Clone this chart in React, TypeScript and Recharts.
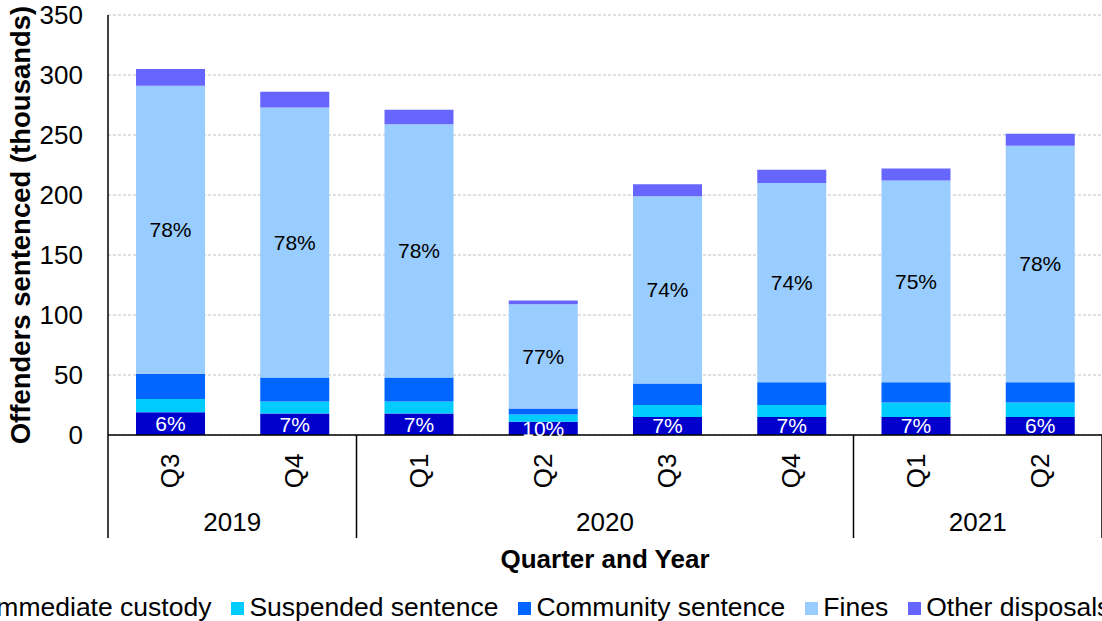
import React from "react";
import {
  BarChart,
  Bar,
  XAxis,
  YAxis,
  CartesianGrid,
  Legend,
  LabelList,
  Label,
} from "recharts";

document.body.style.margin = "0";

const quarters = ["Q3", "Q4", "Q1", "Q2", "Q3", "Q4", "Q1", "Q2"];
const years = ["2019", "2019", "2020", "2020", "2020", "2020", "2021", "2021"];

const custody = [19, 18, 18, 11, 15, 15, 15, 15];
const suspended = [11, 10, 10, 6, 10, 10, 12, 12];
const community = [21, 20, 20, 5, 18, 19, 17, 17];
const fines = [240, 225, 211, 87, 156, 166, 168, 197];
const other = [14, 13, 12, 3, 10, 11, 10, 10];

const custodyPct = ["6%", "7%", "7%", "10%", "7%", "7%", "7%", "6%"];
const finesPct = ["78%", "78%", "78%", "77%", "74%", "74%", "75%", "78%"];

const yTicks = [0, 50, 100, 150, 200, 250, 300, 350];

const series = [
  { key: "custody", name: "Immediate custody", color: "#0000CC" },
  { key: "suspended", name: "Suspended sentence", color: "#00CCFF" },
  { key: "community", name: "Community sentence", color: "#0066FF" },
  { key: "fines", name: "Fines", color: "#99CCFF" },
  { key: "other", name: "Other disposals", color: "#6666FF" },
];

const data = quarters.map((q, i) => ({
  quarter: q,
  year: years[i],
  custody: custody[i],
  suspended: suspended[i],
  community: community[i],
  fines: fines[i],
  other: other[i],
  custodyPct: custodyPct[i],
  finesPct: finesPct[i],
}));

const FONT = "'Liberation Sans', Arial, sans-serif";
const W = 1102;
const H = 621;
const PLOT_LEFT = 108;

// quarter labels rotated, with year groups and separators underneath
function QuarterTick(props: any) {
  const { x, y, payload, index } = props;
  const half = payload && payload.offset ? payload.offset : (W - PLOT_LEFT) / quarters.length / 2;
  const i = typeof index === "number" ? index : payload.index;
  const isStart = i === 0 || years[i] !== years[i - 1];
  const isLast = i === quarters.length - 1;
  let count = 0;
  if (isStart) {
    let j = i;
    while (j < years.length && years[j] === years[i]) {
      count++;
      j++;
    }
  }
  const groupCenter = x - half + count * half;
  return (
    <g>
      <text
        x={x}
        y={y + 36}
        transform={`rotate(-90, ${x}, ${y + 36})`}
        textAnchor="middle"
        dominantBaseline="central"
        fontSize={26}
        fontFamily={FONT}
        fill="#000"
      >
        {payload.value}
      </text>
      {isStart && (
        <>
          <line x1={x - half} x2={x - half} y1={y} y2={y + 103} stroke="#000" strokeWidth={1.5} />
          <text
            x={groupCenter}
            y={y + 87}
            textAnchor="middle"
            dominantBaseline="central"
            fontSize={26}
            fontFamily={FONT}
            fill="#000"
          >
            {years[i]}
          </text>
        </>
      )}
      {isLast && (
        <line x1={x + half} x2={x + half} y1={y} y2={y + 103} stroke="#000" strokeWidth={1.5} />
      )}
    </g>
  );
}

function YTitle(props: any) {
  const vb = props.viewBox || { x: 0, y: 15, width: 108, height: 420 };
  const cx = 20;
  const cy = vb.y + vb.height / 2;
  return (
    <text
      x={cx}
      y={cy}
      transform={`rotate(-90, ${cx}, ${cy})`}
      textAnchor="middle"
      dominantBaseline="central"
      fontSize={27.5}
      fontWeight="bold"
      fontFamily={FONT}
      fill="#000"
    >
      Offenders sentenced (thousands)
    </text>
  );
}

function LegendContent() {
  return (
    <div
      style={{
        display: "flex",
        whiteSpace: "nowrap",
        height: 28,
        lineHeight: "20px",
        fontFamily: FONT,
        fontSize: 26.5,
        color: "#000",
      }}
    >
      {series.map((s) => (
        <div key={s.key} style={{ display: "flex", alignItems: "center", marginRight: 20 }}>
          <span
            style={{
              display: "inline-block",
              width: 13,
              height: 13,
              background: s.color,
              marginRight: 5,
              marginTop: 2,
            }}
          />
          <span>{s.name}</span>
        </div>
      ))}
    </div>
  );
}

export default function App() {
  return (
    <div style={{ width: W, height: H, overflow: "hidden", position: "relative", background: "#fff" }}>
      <BarChart
        width={W}
        height={H}
        data={data}
        margin={{ top: 15, right: 0, bottom: 0, left: 0 }}
        barSize={69}
      >
        <CartesianGrid vertical={false} stroke="#c0c0c0" strokeDasharray="3 2" />
        <XAxis
          dataKey="quarter"
          interval={0}
          height={158}
          tickLine={false}
          tickSize={0}
          tickMargin={0}
          axisLine={{ stroke: "#000", strokeWidth: 1.5 }}
          tick={<QuarterTick />}
        >
          <Label
            value="Quarter and Year"
            position="insideBottom"
            offset={25}
            style={{ fontSize: 26, fontWeight: "bold", fontFamily: FONT, fill: "#000" }}
          />
        </XAxis>
        <YAxis
          width={PLOT_LEFT}
          domain={[0, 350]}
          ticks={yTicks}
          interval={0}
          tickLine={false}
          tickSize={0}
          tickMargin={25}
          axisLine={{ stroke: "#000", strokeWidth: 1.5 }}
          tick={{ fontSize: 26, fontFamily: FONT, fill: "#000" }}
        >
          <Label content={<YTitle />} />
        </YAxis>
        <Legend
          verticalAlign="bottom"
          content={<LegendContent />}
          wrapperStyle={{ left: -29, width: 1200, bottom: 0 }}
        />
        {series.map((s) => (
          <Bar
            key={s.key}
            dataKey={s.key}
            name={s.name}
            stackId="a"
            fill={s.color}
            isAnimationActive={false}
          >
            {s.key === "custody" && (
              <LabelList
                dataKey="custodyPct"
                position="center"
                fill="#fff"
                style={{ fontSize: 21, fontFamily: FONT }}
              />
            )}
            {s.key === "fines" && (
              <LabelList
                dataKey="finesPct"
                position="center"
                fill="#000"
                style={{ fontSize: 21, fontFamily: FONT }}
              />
            )}
          </Bar>
        ))}
      </BarChart>
    </div>
  );
}
